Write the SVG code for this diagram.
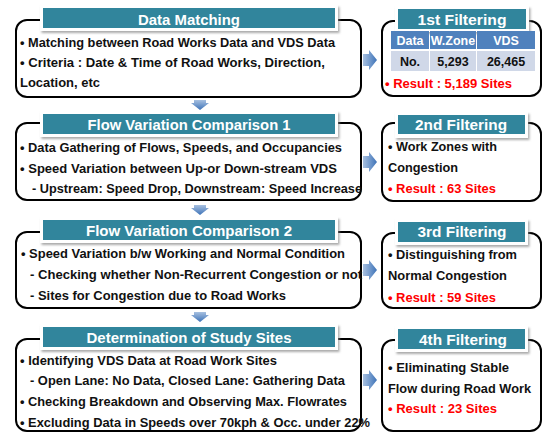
<svg xmlns="http://www.w3.org/2000/svg" width="546" height="433" viewBox="0 0 546 433">
<defs>
<style>
.box{fill:#fff;stroke:#000;stroke-width:2}
.tb{fill:#31859C}
.tw{fill:#fff;filter:url(#sh)}
.tt{font-family:"Liberation Sans",Arial,sans-serif;font-weight:bold;font-size:15.5px;fill:#fff;text-anchor:middle}
.t{font-family:"Liberation Sans",Arial,sans-serif;font-weight:bold;font-size:12.8px;fill:#111}
.r{font-family:"Liberation Sans",Arial,sans-serif;font-weight:bold;font-size:13.5px;fill:#111}
.red{fill:#FF0000}
.th{font-family:"Liberation Sans",Arial,sans-serif;font-weight:bold;font-size:12.5px;fill:#fff;text-anchor:middle}
.td{font-family:"Liberation Sans",Arial,sans-serif;font-weight:bold;font-size:12.5px;fill:#111;text-anchor:middle}
.arr{fill:url(#ag)}
.arrR{fill:url(#agR)}
</style>
<filter id="sh" x="-10%" y="-30%" width="120%" height="170%">
<feDropShadow dx="1.5" dy="2" stdDeviation="1.2" flood-color="#888" flood-opacity="0.7"/>
</filter>
<linearGradient id="ag" x1="0" y1="0" x2="0" y2="1">
<stop offset="0" stop-color="#A7C0E0"/>
<stop offset="1" stop-color="#3E73B8"/>
</linearGradient>
<linearGradient id="agR" x1="0" y1="0" x2="1" y2="0">
<stop offset="0" stop-color="#A7C0E0"/>
<stop offset="1" stop-color="#3E73B8"/>
</linearGradient>
</defs>

<g id="connectors">
<polygon class="arr" points="194,100 206,100 206,103 209,103 200,110 191,103 194,103"/>
<polygon class="arr" points="194,205 206,205 206,208 209,208 200,215 191,208 194,208"/>
<polygon class="arr" points="194,312 206,312 206,315 209,315 200,322 191,315 194,315"/>
<polygon class="arrR" points="363,54 369,54 369,50 377,60 369,70 369,66 363,66"/>
<polygon class="arrR" points="363,156 369,156 369,152 377,162 369,172 369,168 363,168"/>
<polygon class="arrR" points="363,264 369,264 369,260 377,270 369,280 369,276 363,276"/>
<polygon class="arrR" points="363,374 369,374 369,370 377,380 369,390 369,386 363,386"/>
</g>

<g id="data-matching">
<rect class="box" x="16" y="20" width="345" height="77" rx="11"/>
<rect class="tw" x="40" y="5" width="298" height="26"/>
<rect class="tb" x="43" y="8" width="292" height="20"/>
<text class="tt" x="189" y="25" textLength="102" lengthAdjust="spacingAndGlyphs">Data Matching</text>
<text class="t" x="20" y="47" textLength="315" lengthAdjust="spacingAndGlyphs">• Matching between Road Works Data and VDS Data</text>
<text class="t" x="20" y="67" textLength="305" lengthAdjust="spacingAndGlyphs">• Criteria : Date &amp; Time of Road Works, Direction,</text>
<text class="t" x="20" y="87" textLength="80" lengthAdjust="spacingAndGlyphs">Location, etc</text>
</g>

<g id="flow-variation-1">
<rect class="box" x="16" y="123" width="345" height="77" rx="11"/>
<rect class="tw" x="40" y="111" width="298" height="26"/>
<rect class="tb" x="43" y="114" width="292" height="20"/>
<text class="tt" x="189" y="130" textLength="203" lengthAdjust="spacingAndGlyphs">Flow Variation Comparison 1</text>
<text class="t" x="20" y="152" textLength="322" lengthAdjust="spacingAndGlyphs">• Data Gathering of Flows, Speeds, and Occupancies</text>
<text class="t" x="20" y="173" textLength="317" lengthAdjust="spacingAndGlyphs">• Speed Variation between Up-or Down-stream VDS</text>
<text class="t" x="32" y="193" textLength="330" lengthAdjust="spacingAndGlyphs">- Upstream: Speed Drop, Downstream: Speed Increase</text>
</g>

<g id="flow-variation-2">
<rect class="box" x="16" y="232" width="345" height="76" rx="11"/>
<rect class="tw" x="40" y="217" width="298" height="26"/>
<rect class="tb" x="43" y="220" width="292" height="20"/>
<text class="tt" x="189" y="236" textLength="206" lengthAdjust="spacingAndGlyphs">Flow Variation Comparison 2</text>
<text class="t" x="21" y="258" textLength="324" lengthAdjust="spacingAndGlyphs">• Speed Variation b/w Working and Normal Condition</text>
<text class="t" x="30" y="279" textLength="332" lengthAdjust="spacingAndGlyphs">- Checking whether Non-Recurrent Congestion or not</text>
<text class="t" x="30" y="300" textLength="256" lengthAdjust="spacingAndGlyphs">- Sites for Congestion due to Road Works</text>
</g>

<g id="study-sites">
<rect class="box" x="16" y="339" width="345" height="92" rx="11"/>
<rect class="tw" x="40" y="324" width="298" height="26"/>
<rect class="tb" x="43" y="327" width="292" height="20"/>
<text class="tt" x="189" y="343" textLength="205" lengthAdjust="spacingAndGlyphs">Determination of Study Sites</text>
<text class="t" x="20" y="365" textLength="257" lengthAdjust="spacingAndGlyphs">• Identifying VDS Data at Road Work Sites</text>
<text class="t" x="30" y="385" textLength="315" lengthAdjust="spacingAndGlyphs">- Open Lane: No Data, Closed Lane: Gathering Data</text>
<text class="t" x="20" y="406" textLength="327" lengthAdjust="spacingAndGlyphs">• Checking Breakdown and Observing Max. Flowrates</text>
<text class="t" x="20" y="427" textLength="350" lengthAdjust="spacingAndGlyphs">• Excluding Data in Speeds over 70kph &amp; Occ. under 22%</text>
</g>

<g id="filter-1">
<rect class="box" x="382" y="21" width="159" height="75" rx="11"/>
<rect class="tw" x="395" y="6" width="134" height="26"/>
<rect class="tb" x="398" y="9" width="128" height="20"/>
<text class="tt" x="462" y="25" textLength="89" lengthAdjust="spacingAndGlyphs">1st Filtering</text>
<rect x="391" y="31" width="38" height="18" fill="#4F81BD"/>
<rect x="430" y="31" width="46" height="18" fill="#4F81BD"/>
<rect x="477" y="31" width="58" height="18" fill="#4F81BD"/>
<rect x="391" y="51" width="38" height="20" fill="#D0D8E8"/>
<rect x="430" y="51" width="46" height="20" fill="#D0D8E8"/>
<rect x="477" y="51" width="58" height="20" fill="#D0D8E8"/>
<text class="th" x="410" y="45">Data</text>
<text class="th" x="453" y="45">W.Zone</text>
<text class="th" x="506" y="45">VDS</text>
<text class="td" x="410" y="66">No.</text>
<text class="td" x="453" y="66">5,293</text>
<text class="td" x="506" y="66">26,465</text>
<text class="r red" x="385" y="88" textLength="127" lengthAdjust="spacingAndGlyphs">• Result : 5,189 Sites</text>
</g>

<g id="filter-2">
<rect class="box" x="382" y="123" width="159" height="78" rx="11"/>
<rect class="tw" x="395" y="112" width="133" height="26"/>
<rect class="tb" x="398" y="115" width="127" height="19"/>
<text class="tt" x="461" y="130" textLength="92" lengthAdjust="spacingAndGlyphs">2nd Filtering</text>
<text class="r" x="388" y="151" textLength="109" lengthAdjust="spacingAndGlyphs">• Work Zones with</text>
<text class="r" x="388" y="172" textLength="70" lengthAdjust="spacingAndGlyphs">Congestion</text>
<text class="r red" x="388" y="193" textLength="108" lengthAdjust="spacingAndGlyphs">• Result : 63 Sites</text>
</g>

<g id="filter-3">
<rect class="box" x="382" y="233" width="159" height="75" rx="11"/>
<rect class="tw" x="395" y="219" width="133" height="26"/>
<rect class="tb" x="398" y="222" width="127" height="20"/>
<text class="tt" x="462" y="237" textLength="89" lengthAdjust="spacingAndGlyphs">3rd Filtering</text>
<text class="r" x="388" y="259" textLength="129" lengthAdjust="spacingAndGlyphs">• Distinguishing from</text>
<text class="r" x="388" y="280" textLength="119" lengthAdjust="spacingAndGlyphs">Normal Congestion</text>
<text class="r red" x="388" y="302" textLength="108" lengthAdjust="spacingAndGlyphs">• Result : 59 Sites</text>
</g>

<g id="filter-4">
<rect class="box" x="382" y="340" width="159" height="91" rx="11"/>
<rect class="tw" x="395" y="326" width="133" height="26"/>
<rect class="tb" x="398" y="329" width="127" height="20"/>
<text class="tt" x="463" y="345" textLength="88" lengthAdjust="spacingAndGlyphs">4th Filtering</text>
<text class="r" x="388" y="372" textLength="121" lengthAdjust="spacingAndGlyphs">• Eliminating Stable</text>
<text class="r" x="388" y="393" textLength="143" lengthAdjust="spacingAndGlyphs">Flow during Road Work</text>
<text class="r red" x="388" y="413" textLength="109" lengthAdjust="spacingAndGlyphs">• Result : 23 Sites</text>
</g>
</svg>
